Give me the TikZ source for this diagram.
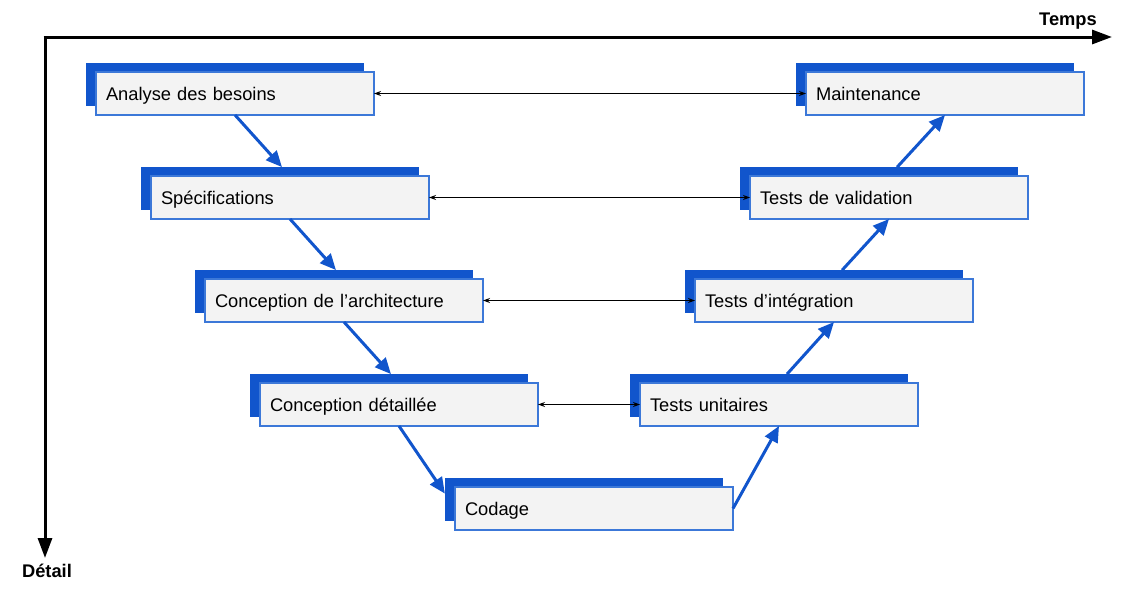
\documentclass[tikz,border=0pt]{standalone}
\usepackage{fontspec}
\setmainfont{Liberation Sans}
\usetikzlibrary{arrows.meta,calc}
\definecolor{vblue}{HTML}{1155CC}
\definecolor{vedge}{HTML}{3C78D8}
\definecolor{vfill}{HTML}{F3F3F3}
\begin{document}
\begin{tikzpicture}[x=1pt,y=-1pt,
  frontbox/.style={draw=vedge,line width=1.6pt,fill=vfill,rectangle,anchor=north west,
    minimum width=278pt,minimum height=43pt,inner sep=0pt,outer sep=0pt,
    text width=258pt,align=left,text height=17pt,text depth=4pt,
    font=\fontsize{18.3}{21}\selectfont},
  flow/.style={draw=vblue,line width=3pt,-{Triangle[length=16pt,width=14pt]}},
  link/.style={draw=black,line width=1.2pt,{Stealth[length=7pt,width=5pt]}-{Stealth[length=7pt,width=5pt]}},
  axis/.style={draw=black,line width=3pt,-{Triangle[length=20pt,width=14pt]}},
  axislabel/.style={font=\bfseries\fontsize{18.3}{21}\selectfont,inner sep=0pt}]
\useasboundingbox (0,0) rectangle (1132,600);
% back boxes
\foreach \l/\t in {96/72,151/176,205/279,260/383,455/487,640/383,695/279,750/176,806/72}{
  \fill[vblue] (\l-10,\t-9) rectangle (\l+268,\t+34);
}
% front boxes
\node[frontbox] (ab) at (96,72) {Analyse des besoins};
\node[frontbox] (sp) at (151,176) {Spécifications};
\node[frontbox] (ca) at (205,279) {Conception de l’architecture};
\node[frontbox] (cd) at (260,383) {Conception détaillée};
\node[frontbox] (co) at (455,487) {Codage};
\node[frontbox] (tu) at (640,383) {Tests unitaires};
\node[frontbox] (ti) at (695,279) {Tests d’intégration};
\node[frontbox] (tv) at (750,176) {Tests de validation};
\node[frontbox] (ma) at (806,72) {Maintenance};
% flow arrows
\draw[flow,shorten >=12pt] (ab.south) -- (sp.north);
\draw[flow,shorten >=12pt] (sp.south) -- (ca.north);
\draw[flow,shorten >=12pt] (ca.south) -- (cd.north);
\draw[flow,shorten >=18pt] (cd.south) -- (co.west);
\draw[flow] (co.east) -- (tu.south);
\draw[flow,shorten <=12pt] (tu.north) -- (ti.south);
\draw[flow,shorten <=12pt] (ti.north) -- (tv.south);
\draw[flow,shorten <=12pt] (tv.north) -- (ma.south);
% links
\draw[link] (ab.east) -- (ma.west);
\draw[link] (sp.east) -- (tv.west);
\draw[link] (ca.east) -- (ti.west);
\draw[link] (cd.east) -- (tu.west);
% axes
\coordinate (origin) at (45,37);
\coordinate (tend) at (1112,37);
\coordinate (dend) at (45,558);
\draw[axis] ($(origin)+(-1.5,0)$) -- (tend);
\draw[axis] (origin) -- (dend);
\node[axislabel,anchor=base] (temps) at (1068,25) {Temps};
\node[axislabel,anchor=base] (detail) at (47,577) {Détail};
\end{tikzpicture}
\end{document}
